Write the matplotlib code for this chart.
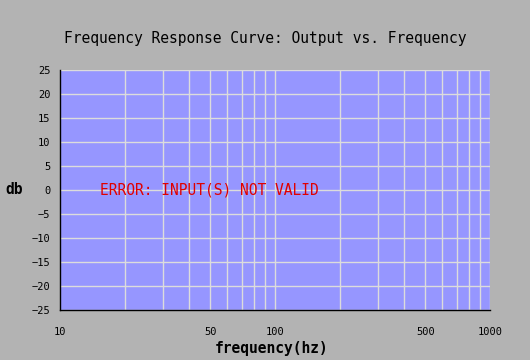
import matplotlib
matplotlib.use("Agg")
import matplotlib.pyplot as plt
from matplotlib.ticker import FixedLocator, NullFormatter

# axis setup
x_range = [10, 1000]
y_range = [-25, 25]
x_ticks = [10, 50, 100, 500, 1000]
x_tick_labels = ["10", "50", "100", "500", "1000"]
x_grid = [20, 30, 40, 50, 60, 70, 80, 90, 100,
          200, 300, 400, 500, 600, 700, 800, 900, 1000]
y_ticks = [-25, -20, -15, -10, -5, 0, 5, 10, 15, 20, 25]
y_tick_labels = ["\u221225", "\u221220", "\u221215", "\u221210", "\u22125",
                 "0", "5", "10", "15", "20", "25"]
message = "ERROR: INPUT(S) NOT VALID"
message_pos = (15.3, 0)

bg = "#b3b3b3"
plot_bg = "#9696ff"
grid_col = "#dcdcdc"
mono = "DejaVu Sans Mono"

fig = plt.figure(figsize=(5.3, 3.6), dpi=100, facecolor=bg)
ax = fig.add_axes([60 / 530, 50 / 360, 430 / 530, 240 / 360])
ax.set_facecolor(plot_bg)
ax.set_xscale("log")
ax.set_xlim(*x_range)
ax.set_ylim(*y_range)

ax.xaxis.set_major_locator(FixedLocator(x_ticks))
ax.set_xticks(x_ticks, x_tick_labels)
ax.xaxis.set_minor_locator(FixedLocator(x_grid))
ax.xaxis.set_minor_formatter(NullFormatter())
ax.set_yticks(y_ticks, y_tick_labels)

for v in x_grid:
    ax.axvline(v, color=grid_col, lw=1.0, zorder=1)
for v in y_ticks:
    ax.axhline(v, color=grid_col, lw=1.0, zorder=1)

ax.tick_params(axis="both", which="both", length=0, labelsize=7.5)
ax.tick_params(axis="x", pad=12)
ax.tick_params(axis="y", pad=7)
for lab in ax.get_xticklabels() + ax.get_yticklabels():
    lab.set_family(mono)

for side in ["top", "right"]:
    ax.spines[side].set_visible(False)
for side in ["left", "bottom"]:
    ax.spines[side].set_color("black")
    ax.spines[side].set_linewidth(1.0)
    ax.spines[side].set_zorder(3)

ax.text(message_pos[0], message_pos[1], message, color="#e00000",
        fontsize=10.5, family=mono, va="center", ha="left", zorder=4)

fig.text(265 / 530, 1 - 38 / 360, "Frequency Response Curve: Output vs. Frequency",
         fontsize=10.5, family=mono, ha="center", va="center")
fig.text(272 / 530, 1 - 349 / 360, "frequency(hz)", fontsize=10.5,
         family=mono, fontweight="bold", ha="center", va="center")
fig.text(14 / 530, 1 - 189 / 360, "db", fontsize=10.5, family=mono,
         fontweight="bold", ha="center", va="center")

fig.savefig("out.png", dpi=100, facecolor=bg)
